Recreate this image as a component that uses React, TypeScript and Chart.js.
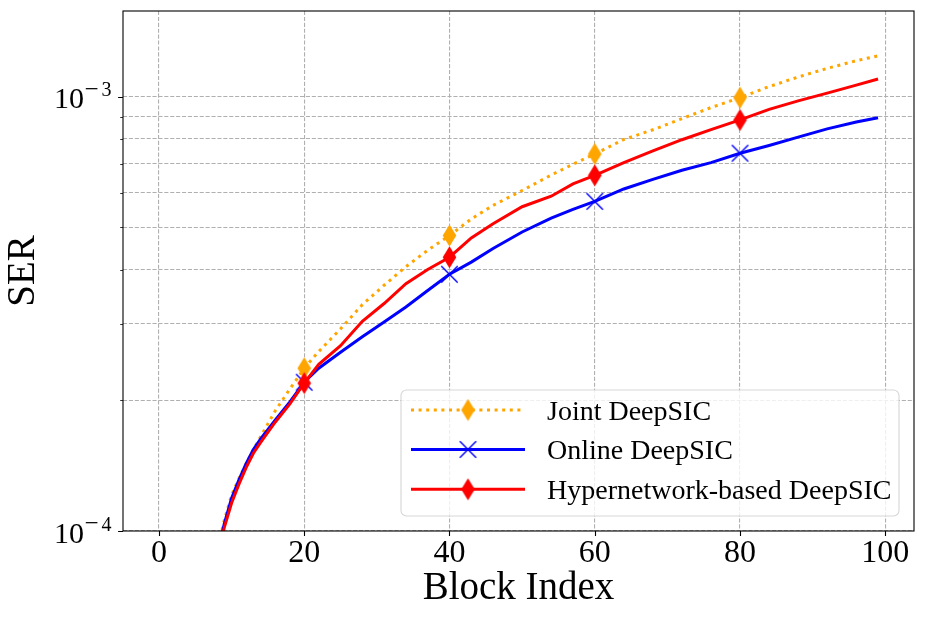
import React, { useEffect, useRef } from "react";
import { Chart, registerables } from "chart.js";

Chart.register(...registerables);

// ---------------- data ----------------
const blockIndex = [0, 4, 6, 8, 9, 10, 11, 12, 13, 14, 16, 18, 20, 22, 25, 28, 31, 34, 37, 40, 43, 46, 50, 54, 57, 60, 64, 68, 72, 76, 80, 84, 88, 92, 96, 99];

const jointSER = [1.5e-5, 4.5e-5, 6.5e-5, 9.0e-5, 1.06e-4, 1.21e-4, 1.32e-4, 1.43e-4, 1.54e-4, 1.65e-4, 1.89e-4, 2.12e-4, 2.37e-4, 2.59e-4, 2.92e-4, 3.32e-4, 3.68e-4, 4.06e-4, 4.43e-4, 4.79e-4, 5.23e-4, 5.62e-4, 6.08e-4, 6.60e-4, 6.99e-4, 7.38e-4, 7.97e-4, 8.39e-4, 8.90e-4, 9.44e-4, 9.95e-4, 1.055e-3, 1.11e-3, 1.162e-3, 1.21e-3, 1.242e-3];

const onlineSER = [1.5e-5, 4.3e-5, 6.3e-5, 8.8e-5, 1.04e-4, 1.19e-4, 1.31e-4, 1.43e-4, 1.54e-4, 1.63e-4, 1.80e-4, 1.98e-4, 2.20e-4, 2.37e-4, 2.58e-4, 2.80e-4, 3.03e-4, 3.28e-4, 3.58e-4, 3.90e-4, 4.16e-4, 4.47e-4, 4.88e-4, 5.25e-4, 5.50e-4, 5.74e-4, 6.13e-4, 6.45e-4, 6.77e-4, 7.05e-4, 7.41e-4, 7.72e-4, 8.07e-4, 8.43e-4, 8.74e-4, 8.94e-4];

const hyperSER = [1.4e-5, 4.2e-5, 6.2e-5, 8.6e-5, 1.02e-4, 1.16e-4, 1.28e-4, 1.40e-4, 1.51e-4, 1.60e-4, 1.78e-4, 1.96e-4, 2.19e-4, 2.42e-4, 2.67e-4, 3.04e-4, 3.34e-4, 3.71e-4, 4.00e-4, 4.27e-4, 4.73e-4, 5.10e-4, 5.58e-4, 5.90e-4, 6.30e-4, 6.59e-4, 7.05e-4, 7.50e-4, 7.96e-4, 8.40e-4, 8.84e-4, 9.35e-4, 9.78e-4, 1.019e-3, 1.063e-3, 1.098e-3];

const seriesLabels = ["Joint DeepSIC", "Online DeepSIC", "Hypernetwork-based DeepSIC"];
const markEvery = 20;

const xTicks = [0, 20, 40, 60, 80, 100];
const yMajorTicks = [1e-4, 1e-3];
const yMajorExponents = ["4", "3"];
const yMinorTicks = [2e-4, 3e-4, 4e-4, 5e-4, 6e-4, 7e-4, 8e-4, 9e-4];

const X_MIN = -4.95;
const X_MAX = 103.95;
const Y_MIN = 1e-4;
const Y_MAX = 1.575e-3;

const FONT = "'Liberation Serif', 'Times New Roman', serif";

// ---------------- marker images ----------------
function makeThinDiamond(color: string): HTMLCanvasElement {
  const c = document.createElement("canvas");
  c.width = 15;
  c.height = 23;
  const g = c.getContext("2d")!;
  g.fillStyle = color;
  g.beginPath();
  g.moveTo(7.5, 0.4);
  g.lineTo(14.3, 11.5);
  g.lineTo(7.5, 22.6);
  g.lineTo(0.7, 11.5);
  g.closePath();
  g.fill();
  return c;
}

function makeX(color: string): HTMLCanvasElement {
  const c = document.createElement("canvas");
  c.width = 19;
  c.height = 19;
  const g = c.getContext("2d")!;
  g.strokeStyle = color;
  g.lineWidth = 1.4;
  g.beginPath();
  g.moveTo(1.3, 1.3);
  g.lineTo(17.7, 17.7);
  g.moveTo(1.3, 17.7);
  g.lineTo(17.7, 1.3);
  g.stroke();
  return c;
}

// ---------------- plugin: frame, ticks, y labels, legend ----------------
const decorPlugin = {
  id: "decor",
  afterDraw(chart: any) {
    const ctx: CanvasRenderingContext2D = chart.ctx;
    const area = chart.chartArea;
    const xs = chart.scales.x;
    const ys = chart.scales.y;
    ctx.save();

    // frame
    ctx.strokeStyle = "#000";
    ctx.lineWidth = 1.1;
    ctx.setLineDash([]);
    ctx.strokeRect(area.left, area.top, area.right - area.left, area.bottom - area.top);

    // x tick marks
    ctx.beginPath();
    for (const v of xTicks) {
      const px = Math.round(xs.getPixelForValue(v)) + 0.5;
      ctx.moveTo(px, area.bottom);
      ctx.lineTo(px, area.bottom + 4.9);
    }
    ctx.stroke();

    // y tick marks
    ctx.beginPath();
    for (const v of yMajorTicks) {
      const py = Math.round(ys.getPixelForValue(v)) + 0.5;
      ctx.moveTo(area.left - 4.9, py);
      ctx.lineTo(area.left, py);
    }
    ctx.stroke();
    ctx.lineWidth = 0.8;
    ctx.beginPath();
    for (const v of yMinorTicks) {
      const py = Math.round(ys.getPixelForValue(v)) + 0.5;
      ctx.moveTo(area.left - 2.8, py);
      ctx.lineTo(area.left, py);
    }
    ctx.stroke();

    // y tick labels 10^{-n}
    ctx.fillStyle = "#000";
    ctx.textBaseline = "alphabetic";
    yMajorTicks.forEach((v, i) => {
      const py = ys.getPixelForValue(v);
      const right = area.left - 39;
      ctx.font = `30px ${FONT}`;
      ctx.textAlign = "right";
      ctx.fillText("10", right, py + 11.8);
      ctx.textAlign = "left";
      ctx.font = `25px ${FONT}`;
      ctx.fillText("\u2212", right + 0.5, py + 0.3);
      ctx.font = `20px ${FONT}`;
      ctx.fillText(yMajorExponents[i], right + 17.5, py - 0.3);
    });

    // legend
    const datasets = chart.data.datasets;
    const boxW = 498;
    const boxH = 126;
    const bx = area.right - 15 - boxW;
    const by = area.bottom - 15 - boxH;
    const r = 5.5;
    ctx.beginPath();
    ctx.moveTo(bx + r, by);
    ctx.lineTo(bx + boxW - r, by);
    ctx.arcTo(bx + boxW, by, bx + boxW, by + r, r);
    ctx.lineTo(bx + boxW, by + boxH - r);
    ctx.arcTo(bx + boxW, by + boxH, bx + boxW - r, by + boxH, r);
    ctx.lineTo(bx + r, by + boxH);
    ctx.arcTo(bx, by + boxH, bx, by + boxH - r, r);
    ctx.lineTo(bx, by + r);
    ctx.arcTo(bx, by, bx + r, by, r);
    ctx.closePath();
    ctx.fillStyle = "rgba(255,255,255,0.8)";
    ctx.fill();
    ctx.strokeStyle = "rgba(204,204,204,0.8)";
    ctx.lineWidth = 1.1;
    ctx.stroke();

    const rowOffsets = [20, 59.5, 99.3];
    datasets.forEach((ds: any, i: number) => {
      const cy = by + rowOffsets[i];
      ctx.save();
      ctx.strokeStyle = ds.borderColor;
      ctx.lineWidth = ds.borderWidth;
      ctx.setLineDash(ds.borderDash || []);
      ctx.lineCap = "butt";
      ctx.beginPath();
      ctx.moveTo(bx + 10, cy);
      ctx.lineTo(bx + 124, cy);
      ctx.stroke();
      ctx.restore();
      const img: HTMLCanvasElement = ds.pointStyle;
      ctx.drawImage(img, bx + 67 - img.width / 2, cy - img.height / 2);
      ctx.fillStyle = "#000";
      ctx.font = `28px ${FONT}`;
      ctx.textAlign = "left";
      ctx.textBaseline = "alphabetic";
      ctx.fillText(ds.label, bx + 146, cy + 9.6);
    });

    ctx.restore();
  },
};

export default function App() {
  const canvasRef = useRef<HTMLCanvasElement | null>(null);

  useEffect(() => {
    const canvas = canvasRef.current;
    if (!canvas) return;

    const toPoints = (vals: number[]) => blockIndex.map((x, i) => ({ x, y: vals[i] }));
    const markerRadius = (c: any) => (c.raw && c.raw.x % markEvery === 0 ? 8 : 0);

    const chart = new Chart(canvas, {
      type: "line",
      data: {
        datasets: [
          {
            label: seriesLabels[0],
            data: toPoints(jointSER),
            borderColor: "#FFA500",
            borderWidth: 3,
            borderDash: [3, 4.6],
            pointStyle: makeThinDiamond("#FFA500") as any,
            pointRadius: markerRadius,
            pointHoverRadius: markerRadius,
            tension: 0,
            clip: 0,
            order: 3,
          },
          {
            label: seriesLabels[1],
            data: toPoints(onlineSER),
            borderColor: "#0000FF",
            borderWidth: 3,
            borderDash: [],
            pointStyle: makeX("#0000FF") as any,
            pointRadius: markerRadius,
            pointHoverRadius: markerRadius,
            tension: 0,
            clip: 0,
            order: 2,
          },
          {
            label: seriesLabels[2],
            data: toPoints(hyperSER),
            borderColor: "#FF0000",
            borderWidth: 3,
            borderDash: [],
            pointStyle: makeThinDiamond("#FF0000") as any,
            pointRadius: markerRadius,
            pointHoverRadius: markerRadius,
            tension: 0,
            clip: 0,
            order: 1,
          },
        ] as any,
      },
      options: {
        animation: false,
        responsive: false,
        devicePixelRatio: 1,
        layout: { padding: { left: 0, right: 9, top: 9, bottom: 0 } },
        plugins: {
          legend: { display: false },
          tooltip: { enabled: false },
        },
        events: [],
        scales: {
          x: {
            type: "linear",
            min: X_MIN,
            max: X_MAX,
            afterBuildTicks: (scale: any) => {
              scale.ticks = xTicks.map((v) => ({ value: v }));
            },
            afterFit: (scale: any) => {
              scale.height = 88;
            },
            ticks: {
              autoSkip: false,
              maxRotation: 0,
              padding: 3,
              color: "#000",
              font: { family: FONT, size: 32 },
              callback: (v: any) => String(v),
            },
            grid: {
              color: "#b0b0b0",
              lineWidth: 1.1,
              drawTicks: false,
            },
            border: { display: false, dash: [4.1, 1.8] },
            title: {
              display: true,
              text: "Block Index",
              color: "#000",
              font: { family: FONT, size: 39 },
              padding: { top: 0, bottom: 7 },
            },
          },
          y: {
            type: "logarithmic",
            min: Y_MIN,
            max: Y_MAX,
            afterBuildTicks: (scale: any) => {
              scale.ticks = [...yMajorTicks, ...yMinorTicks]
                .sort((a, b) => a - b)
                .map((v) => ({ value: v, major: yMajorTicks.includes(v) }));
            },
            afterFit: (scale: any) => {
              scale.width = 123;
            },
            ticks: { display: false },
            grid: {
              color: "#b0b0b0",
              lineWidth: 1.1,
              drawTicks: false,
            },
            border: { display: false, dash: [4.1, 1.8] },
            title: {
              display: true,
              text: "SER",
              color: "#000",
              font: { family: FONT, size: 39 },
              padding: { top: 0, bottom: 0 },
            },
          },
        },
      } as any,
      plugins: [decorPlugin],
    });

    return () => {
      chart.destroy();
    };
  }, []);

  return (
    <div style={{ position: "absolute", left: 0, top: 0, width: 925, height: 619, background: "#fff" }}>
      <canvas ref={canvasRef} width={925} height={619} style={{ display: "block", width: 925, height: 619 }} />
    </div>
  );
}
